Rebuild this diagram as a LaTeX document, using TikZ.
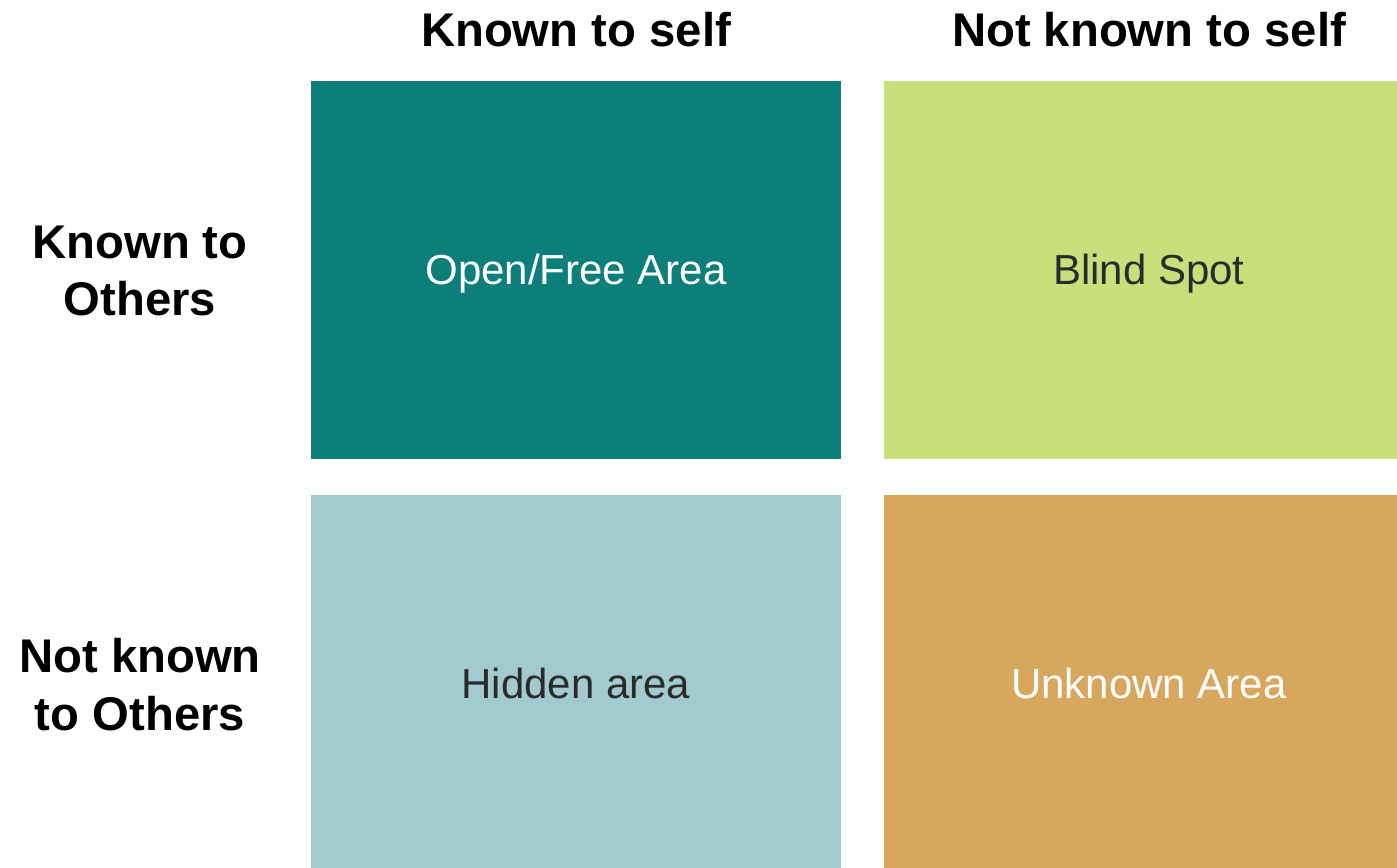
\documentclass[tikz,border=0pt]{standalone}
\usepackage{fontspec}
\setmainfont{Liberation Sans}
\usepackage{xcolor}
\usepackage{tikz}
\usetikzlibrary{positioning}
\definecolor{openteal}{HTML}{0C7F7B}
\definecolor{blindlime}{HTML}{C9DF7B}
\definecolor{hiddenblue}{HTML}{A1CBCE}
\definecolor{unknownochre}{HTML}{D8A75E}
\definecolor{ink}{HTML}{2B2B2B}

\tikzset{
  pane/.style={anchor=north west,inner sep=0pt,outer sep=0pt,
               minimum width=10.6cm,minimum height=7.56cm,
               text height=17.1pt,text depth=0pt,
               font=\fontsize{23.9}{28}\selectfont},
  axislabel/.style={font=\fontsize{26.9}{32.9}\selectfont\bfseries,
                    align=center,inner sep=0pt}
}

\begin{document}
\begin{tikzpicture}[x=0.02cm,y=-0.02cm]
\useasboundingbox (0,0) rectangle (1397,868);

% the four panes of the window (right and bottom ones run off the page)
\node[pane,fill=openteal,text=white] (open) at (311,81) {Open/Free Area};
\node[pane,fill=blindlime,text=ink] (blind) at (884,81) {Blind Spot};
\node[pane,fill=hiddenblue,text=ink] (hidden) at (311,495) {Hidden area};
\node[pane,fill=unknownochre,text=white] (unknown) at (884,495) {Unknown Area};

% column heads
\node[axislabel] (selfknown) at (576,30) {Known to self};
\node[axislabel] (selfunknown) at (1149,30) {Not known to self};

% row heads
\node[axislabel] (othersknown) at (140,271) {Known to\\Others};
\node[axislabel] (othersunknown) at (140,685) {Not known\\to Others};
\end{tikzpicture}
\end{document}
